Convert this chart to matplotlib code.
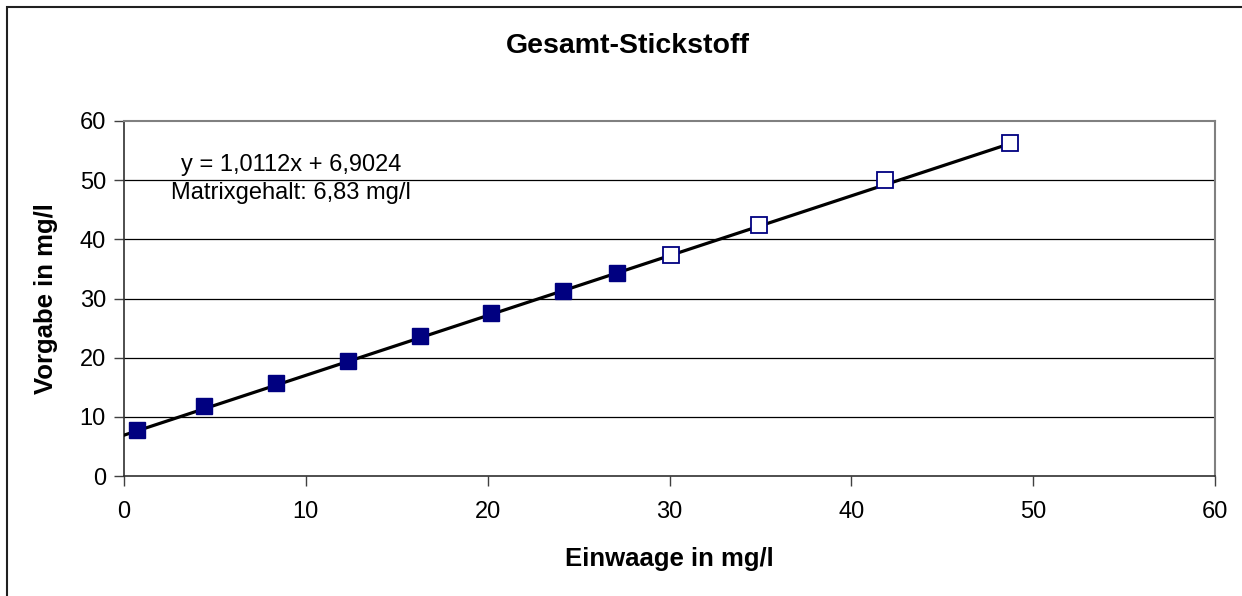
import numpy as np
import matplotlib
matplotlib.use('Agg')
import matplotlib.pyplot as plt
from matplotlib.patches import Rectangle

# Messwerte (Einwaage / Vorgabe), gefüllt = Kalibrierpunkte, offen = Zusatzpunkte
x_filled = [0.73, 4.42, 8.36, 12.34, 16.3, 20.17, 24.13, 27.1]
y_filled = [7.77, 11.8, 15.8, 19.4, 23.6, 27.6, 31.25, 34.3]
x_open = [30.07, 34.93, 41.86, 48.7]
y_open = [37.3, 42.5, 50.1, 56.2]

# Trendlinie
slope = 1.0112
intercept = 6.9024

title = 'Gesamt-Stickstoff'
xlabel = 'Einwaage in mg/l'
ylabel = 'Vorgabe in mg/l'
annotation = 'y = 1,0112x + 6,9024\nMatrixgehalt: 6,83 mg/l'
ticks = [0, 10, 20, 30, 40, 50, 60]


def main():
    plt.rcParams['font.family'] = ['Liberation Sans', 'DejaVu Sans']

    fig = plt.figure(figsize=(12.42, 5.96), dpi=100)
    ax = fig.add_axes([0.0998, 0.2013, 0.8785, 0.5957])

    # Rahmen um das gesamte Diagramm
    fig.patches.append(Rectangle((7 / 1242, -0.05), 1.1, 1 - 7 / 596 + 0.05,
                                 transform=fig.transFigure, fill=False,
                                 edgecolor='#202020', linewidth=1.5))

    # Gitterlinien
    for t in ticks[1:-1]:
        ax.axhline(t, color='black', linewidth=0.9, zorder=1)

    # Trendlinie von 0 bis zum größten x-Wert
    x_all = np.array(x_filled + x_open)
    x_line = np.array([0, x_all.max()])
    ax.plot(x_line, slope * x_line + intercept, color='black', linewidth=2.3, zorder=3)

    ax.plot(x_filled, y_filled, linestyle='none', marker='s', markersize=11.5,
            markerfacecolor='#000080', markeredgecolor='#000080', zorder=4)
    ax.plot(x_open, y_open, linestyle='none', marker='s', markersize=11,
            markerfacecolor='white', markeredgecolor='#000080', markeredgewidth=1.3, zorder=4)

    ax.text(9.19, 50.2, annotation, ha='center', va='center', fontsize=17,
            linespacing=1.3)

    ax.set_xlim(0, 60)
    ax.set_ylim(0, 60)
    ax.set_xticks(ticks)
    ax.set_yticks(ticks)
    ax.tick_params(axis='x', direction='out', length=7, width=1, color='#404040',
                   labelsize=17, pad=11)
    ax.tick_params(axis='y', direction='out', length=7, width=1, color='#404040',
                   labelsize=17, pad=6)

    for side in ['top', 'right']:
        ax.spines[side].set_color('#808080')
        ax.spines[side].set_linewidth(1.5)
    for side in ['left', 'bottom']:
        ax.spines[side].set_color('#303030')
        ax.spines[side].set_linewidth(1.2)

    ax.set_xlabel(xlabel, fontsize=18.5, fontweight='bold')
    ax.set_ylabel(ylabel, fontsize=18.5, fontweight='bold')
    ax.xaxis.set_label_coords(0.5, -0.2)
    ax.yaxis.set_label_coords(-0.06, 0.5)

    fig.text(628 / 1242, 1 - 46 / 596, title, ha='center', va='center',
             fontsize=20.5, fontweight='bold')

    fig.savefig('out.png', dpi=100)


if __name__ == '__main__':
    main()
